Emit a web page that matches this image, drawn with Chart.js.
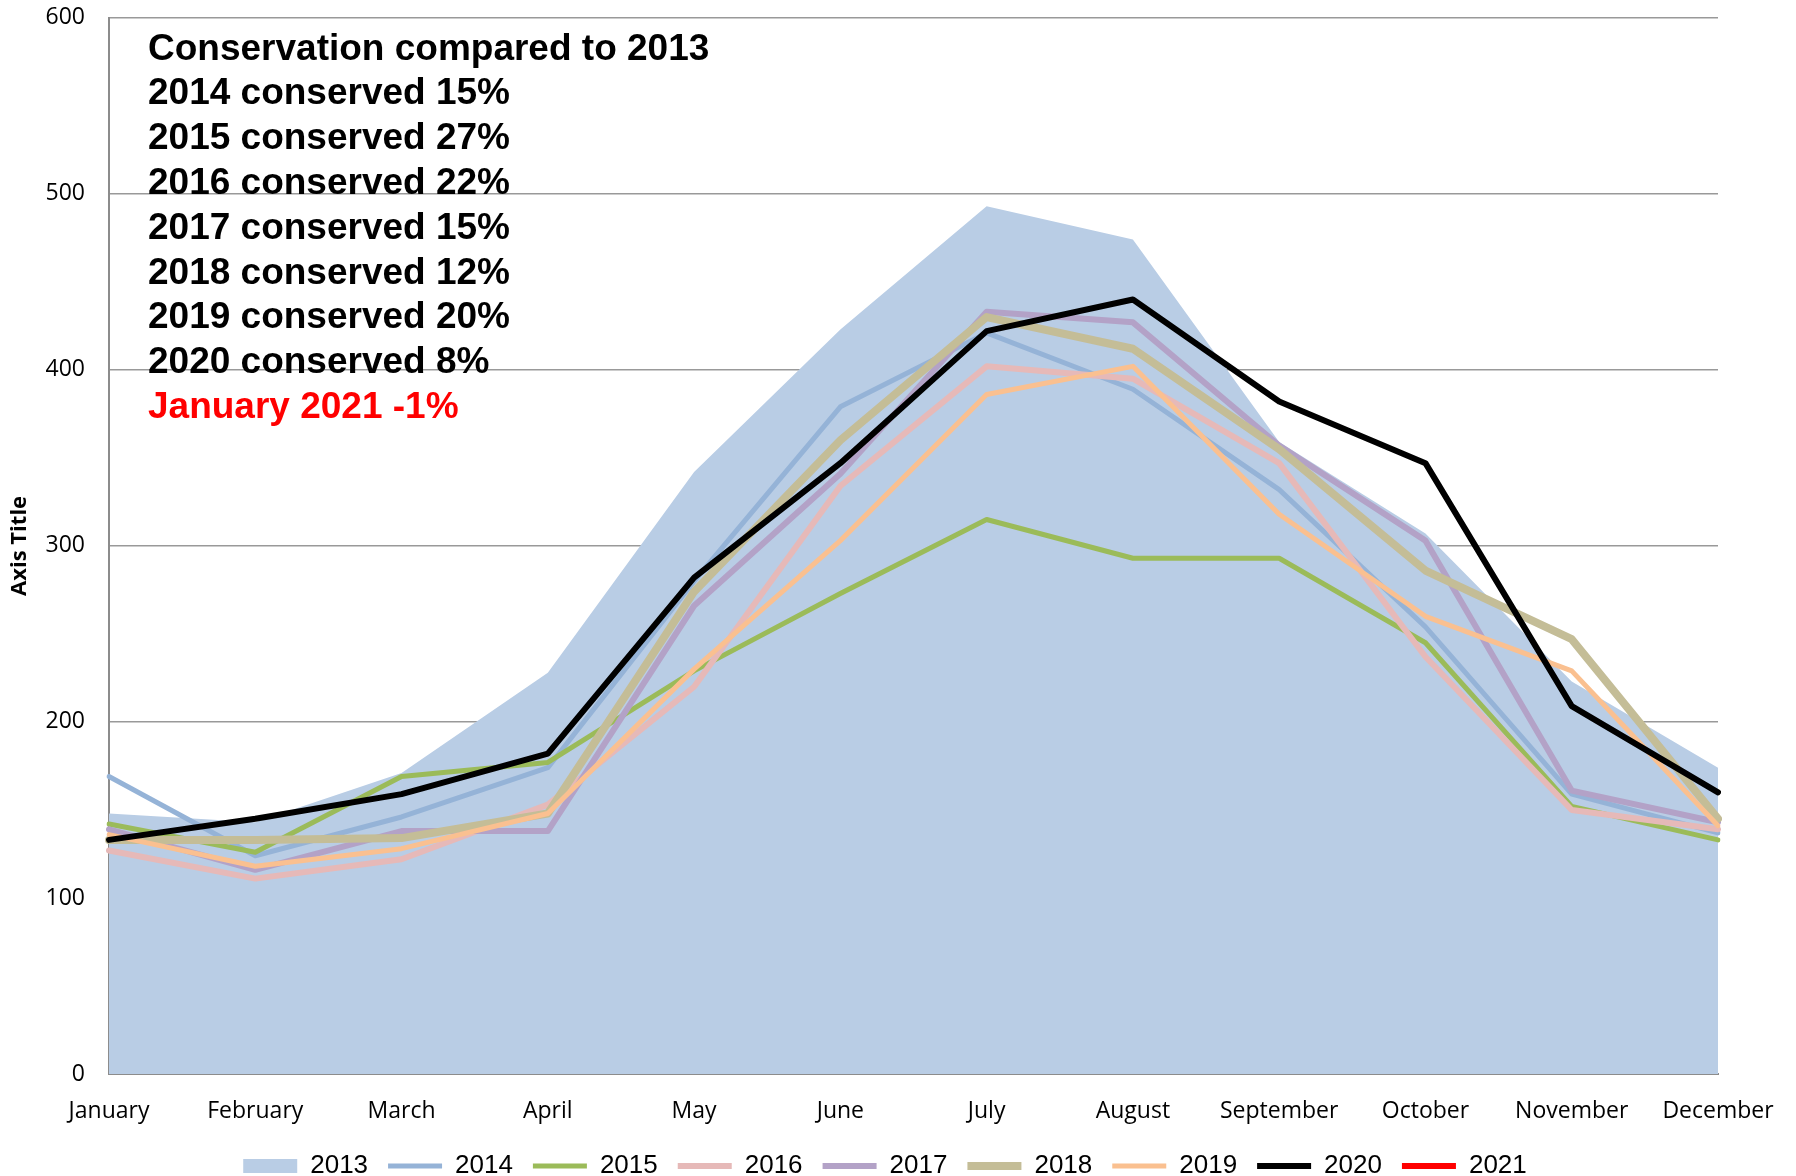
<!DOCTYPE html>
<html>
<head>
<meta charset="utf-8">
<script src="https://cdn.jsdelivr.net/npm/chart.js@4.4.1/dist/chart.umd.min.js"></script>
<style>
    html, body { margin: 0; padding: 0; background: #ffffff; }
    canvas { display: block; }
</style>
</head>
<body>
<canvas id="grafico" width="1796" height="1176"></canvas>
<script>
const months = ['January', 'February', 'March', 'April', 'May', 'June',
    'July', 'August', 'September', 'October', 'November', 'December'];

const usage2013 = [148, 143, 171, 228, 342, 423, 493, 474, 359, 307, 223, 174];
const usage2014 = [169, 124, 146, 174, 280, 379, 421, 389, 332, 254, 159, 137];
const usage2015 = [142, 126, 169, 177, 229, 273, 315, 293, 293, 245, 152, 133];
const usage2016 = [127, 111, 122, 153, 220, 334, 402, 395, 347, 237, 150, 139];
const usage2017 = [139, 116, 138, 138, 266, 341, 433, 427, 357, 303, 161, 143];
const usage2018 = [133, 133, 134, 148, 274, 360, 430, 412, 355, 286, 247, 145];
const usage2019 = [136, 118, 128, 148, 230, 303, 386, 402, 318, 260, 229, 141];
const usage2020 = [133, 145, 159, 182, 282, 347, 422, 440, 382, 347, 209, 160];
const usage2021 = [150, null, null, null, null, null, null, null, null, null, null, null];

const yearLabels = ['2013', '2014', '2015', '2016', '2017', '2018', '2019', '2020', '2021'];

const conservationNotes = [
    'Conservation compared to 2013',
    '2014 conserved 15%',
    '2015 conserved 27%',
    '2016 conserved 22%',
    '2017 conserved 15%',
    '2018 conserved 12%',
    '2019 conserved 20%',
    '2020 conserved 8%',
    'January 2021 -1%'
];

const tickFont = { family: '"Open Sans", sans-serif', size: 23 };

function serieLinha(label, data, cor, largura, ordem, ponta = 'round') {
    return {
        label,
        data,
        borderColor: cor,
        backgroundColor: cor,
        borderWidth: largura,
        borderCapStyle: ponta,
        borderJoinStyle: 'round',
        pointRadius: 0,
        pointHoverRadius: 0,
        pointStyle: 'line',
        fill: false,
        tension: 0,
        order: ordem
    };
}

const notasPlugin = {
    id: 'notasConservacao',
    afterDatasetsDraw(chart) {
        const { ctx, chartArea } = chart;
        ctx.save();
        ctx.font = 'bold 37px "Liberation Sans", Arial, sans-serif';
        ctx.textBaseline = 'middle';
        ctx.textAlign = 'left';
        conservationNotes.forEach((texto, i) => {
            ctx.fillStyle = i === conservationNotes.length - 1 ? '#ff0000' : '#000000';
            ctx.fillText(texto, chartArea.left + 39, chartArea.top + 31.5 + i * 44.8);
        });
        ctx.restore();
    }
};

const legendaPlugin = {
    id: 'ajusteLegenda',
    afterLayout(chart) {
        const legenda = chart.legend;
        if (!legenda) return;
        legenda.left += 26;
        legenda.right += 26;
        legenda.top += 9;
        legenda.bottom += 9;
    }
};

new Chart(document.getElementById('grafico').getContext('2d'), {
    type: 'line',
    data: {
        labels: months,
        datasets: [
            {
                label: yearLabels[0],
                data: usage2013,
                backgroundColor: '#b9cde5',
                borderColor: 'rgba(0,0,0,0)',
                borderWidth: 0,
                pointRadius: 0,
                pointHoverRadius: 0,
                pointStyle: 'rect',
                fill: 'origin',
                tension: 0,
                order: 9
            },
            serieLinha(yearLabels[1], usage2014, '#95b3d7', 5, 8),
            serieLinha(yearLabels[2], usage2015, '#9bbb59', 5, 7),
            serieLinha(yearLabels[3], usage2016, '#e6b9b8', 6, 6),
            serieLinha(yearLabels[4], usage2017, '#b3a2c7', 6, 5),
            serieLinha(yearLabels[5], usage2018, '#c4bd97', 8, 4),
            serieLinha(yearLabels[6], usage2019, '#fac090', 5, 3),
            serieLinha(yearLabels[7], usage2020, '#000000', 6, 2),
            serieLinha(yearLabels[8], usage2021, '#ff0000', 6, 1, 'butt')
        ]
    },
    options: {
        responsive: false,
        devicePixelRatio: 1,
        animation: false,
        layout: {
            padding: { top: 17, right: 78, bottom: -4, left: 0 }
        },
        plugins: {
            legend: {
                position: 'bottom',
                labels: {
                    usePointStyle: true,
                    pointStyleWidth: 54,
                    boxHeight: 14,
                    padding: 20,
                    color: '#000000',
                    font: { family: '"Liberation Sans", Arial, sans-serif', size: 26 },
                    sort: (a, b) => a.datasetIndex - b.datasetIndex
                }
            },
            tooltip: { enabled: false }
        },
        scales: {
            x: {
                offset: false,
                grid: { display: false, drawTicks: true, tickLength: 21, tickColor: 'rgba(0,0,0,0)' },
                border: { display: true, color: '#8c8c8c', width: 2 },
                ticks: {
                    color: '#000000',
                    font: tickFont,
                    padding: 3,
                    maxRotation: 0,
                    autoSkip: false
                },
                afterFit(scale) {
                    scale.height = 50;
                }
            },
            y: {
                min: 0,
                max: 600,
                grid: { color: '#999999', lineWidth: 1.5, drawTicks: true, tickLength: 20, tickColor: 'rgba(0,0,0,0)' },
                border: { display: true, color: '#8c8c8c', width: 2 },
                ticks: {
                    stepSize: 100,
                    color: '#000000',
                    font: tickFont,
                    padding: 4
                },
                title: {
                    display: true,
                    text: 'Axis Title',
                    color: '#000000',
                    font: { family: '"Open Sans", sans-serif', size: 22, weight: 'bold' },
                    padding: { top: 7, bottom: 0 }
                },
                afterFit(scale) {
                    scale.width = 109;
                }
            }
        }
    },
    plugins: [notasPlugin, legendaPlugin]
});
</script>
</body>
</html>
